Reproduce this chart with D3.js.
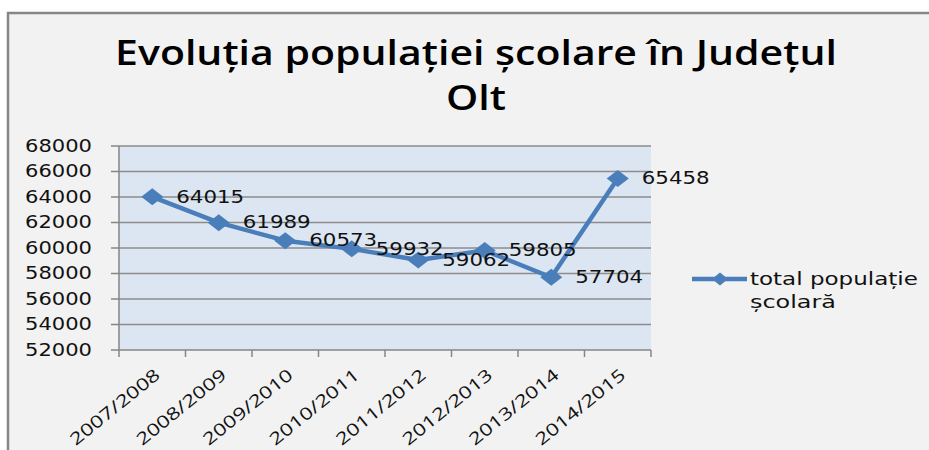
<!DOCTYPE html>
<html>
<head>
<meta charset="utf-8">
<script src="https://cdn.jsdelivr.net/npm/d3@7/dist/d3.min.js"></script>
<style>
  html, body { margin: 0; padding: 0; background: #ffffff; }
  svg { display: block; }
</style>
</head>
<body>
<svg id="chart" width="929" height="450"></svg>
<script>
// ---- data ----
const titleLines = ["Evoluția populației școlare în Județul", "Olt"];
const categories = ["2007/2008", "2008/2009", "2009/2010", "2010/2011", "2011/2012", "2012/2013", "2013/2014", "2014/2015"];
const values = [64015, 61989, 60573, 59932, 59062, 59805, 57704, 65458];
const yTickValues = [52000, 54000, 56000, 58000, 60000, 62000, 64000, 66000, 68000];
const seriesName = ["total populație", "școlară"];

// ---- layout ----
const W = 929, H = 450;
const plot = { left: 119, right: 651, top: 146, bottom: 350 };
const lineColor = "#4a7ebb";
const numFont = "'DejaVu Sans', Verdana, sans-serif";
const catFont = "'Open Sans', 'Noto Sans', sans-serif";

const svg = d3.select("#chart");

// chart area background and border
svg.append("rect").attr("x", 8).attr("y", 13).attr("width", W + 20).attr("height", H + 20)
  .attr("fill", "#f2f2f2").attr("stroke", "#868686").attr("stroke-width", 2.5);

const x = d3.scaleBand().domain(categories).range([plot.left, plot.right]);
const y = d3.scaleLinear().domain([52000, 68000]).range([plot.bottom, plot.top]);

// helper: stretch text horizontally to a target width
function stretch(textSel, target) {
  textSel.each(function () {
    const w = this.getComputedTextLength();
    if (w > 0) d3.select(this).attr("transform", `scale(${target / w},1)`);
  });
}

// plot background
svg.append("rect").attr("x", plot.left).attr("y", plot.top)
  .attr("width", plot.right - plot.left).attr("height", plot.bottom - plot.top)
  .attr("fill", "#dce6f2");

// gridlines
svg.append("g").selectAll("line").data(yTickValues.filter(v => v !== 52000)).join("line")
  .attr("x1", plot.left).attr("x2", plot.right)
  .attr("y1", d => y(d)).attr("y2", d => y(d))
  .attr("stroke", "#8c8c8c").attr("stroke-width", 1.5);

// y axis line + ticks
const axisColor = "#868686";
svg.append("line").attr("x1", plot.left).attr("x2", plot.left)
  .attr("y1", plot.top).attr("y2", plot.bottom).attr("stroke", axisColor).attr("stroke-width", 1.5);
svg.append("g").selectAll("line").data(yTickValues).join("line")
  .attr("x1", plot.left - 8).attr("x2", plot.left)
  .attr("y1", d => y(d)).attr("y2", d => y(d))
  .attr("stroke", axisColor).attr("stroke-width", 1.5);

// x axis line + ticks
svg.append("line").attr("x1", plot.left).attr("x2", plot.right)
  .attr("y1", plot.bottom).attr("y2", plot.bottom).attr("stroke", axisColor).attr("stroke-width", 1.5);
const xBounds = categories.map(c => x(c)).concat([x(categories[categories.length - 1]) + x.bandwidth()]);
svg.append("g").selectAll("line").data(xBounds).join("line")
  .attr("x1", d => d).attr("x2", d => d)
  .attr("y1", plot.bottom).attr("y2", plot.bottom + 7)
  .attr("stroke", axisColor).attr("stroke-width", 1.5);

// y tick labels
const yl = svg.append("g").selectAll("g").data(yTickValues).join("g")
  .attr("transform", d => `translate(92,${y(d)})`);
const ylt = yl.append("text").text(d => d)
  .attr("text-anchor", "end").attr("dominant-baseline", "central")
  .attr("font-family", numFont).attr("font-size", 17).attr("fill", "#111");
stretch(ylt, 67);

// x tick labels (rotated)
const xl = svg.append("g").selectAll("g").data(categories).join("g")
  .attr("transform", d => `translate(${x(d) + x.bandwidth() / 2 + 9},377) rotate(-39)`);
const xlt = xl.append("text").text(d => d)
  .attr("text-anchor", "end")
  .attr("font-family", catFont).attr("font-size", 17).attr("fill", "#111");
stretch(xlt, 110);

// series line
const cx = (d, i) => x(categories[i]) + x.bandwidth() / 2;
const line = d3.line().x((d, i) => cx(d, i)).y(d => y(d));
svg.append("path").datum(values).attr("d", line)
  .attr("fill", "none").attr("stroke", lineColor).attr("stroke-width", 4.5)
  .attr("stroke-linejoin", "round").attr("stroke-linecap", "round");

// markers
const diamond = (w, h) => `M${-w},0L0,${-h}L${w},0L0,${h}Z`;
svg.append("g").selectAll("path").data(values).join("path")
  .attr("transform", (d, i) => `translate(${cx(d, i)},${y(d)})`)
  .attr("d", diamond(11, 8.5)).attr("fill", lineColor);

// data labels
const dl = svg.append("g").selectAll("g").data(values).join("g")
  .attr("transform", (d, i) => `translate(${cx(d, i) + 24},${y(d)})`);
const dlt = dl.append("text").text(d => d)
  .attr("dominant-baseline", "central")
  .attr("font-family", numFont).attr("font-size", 17).attr("fill", "#111");
stretch(dlt, 68);

// legend
const lg = svg.append("g");
lg.append("line").attr("x1", 692).attr("x2", 747).attr("y1", 279).attr("y2", 279)
  .attr("stroke", lineColor).attr("stroke-width", 4.5);
lg.append("path").attr("transform", "translate(720,279)").attr("d", diamond(8, 6.5)).attr("fill", lineColor);
const lgWidths = [168, 86];
seriesName.forEach((s, i) => {
  const g = lg.append("g").attr("transform", `translate(750,${279 + i * 23})`);
  const t = g.append("text").text(s).attr("dominant-baseline", "central")
    .attr("font-family", numFont).attr("font-size", 17).attr("fill", "#111");
  stretch(t, lgWidths[i]);
});

// title
const titleWidths = [722, 60];
const titleBase = [65, 110];
titleLines.forEach((s, i) => {
  const g = svg.append("g").attr("transform", `translate(476,${titleBase[i]})`);
  const t = g.append("text").text(s).attr("text-anchor", "middle")
    .attr("font-family", catFont).attr("font-weight", "600").attr("font-size", 34).attr("fill", "#000");
  stretch(t, titleWidths[i]);
});
</script>
</body>
</html>
